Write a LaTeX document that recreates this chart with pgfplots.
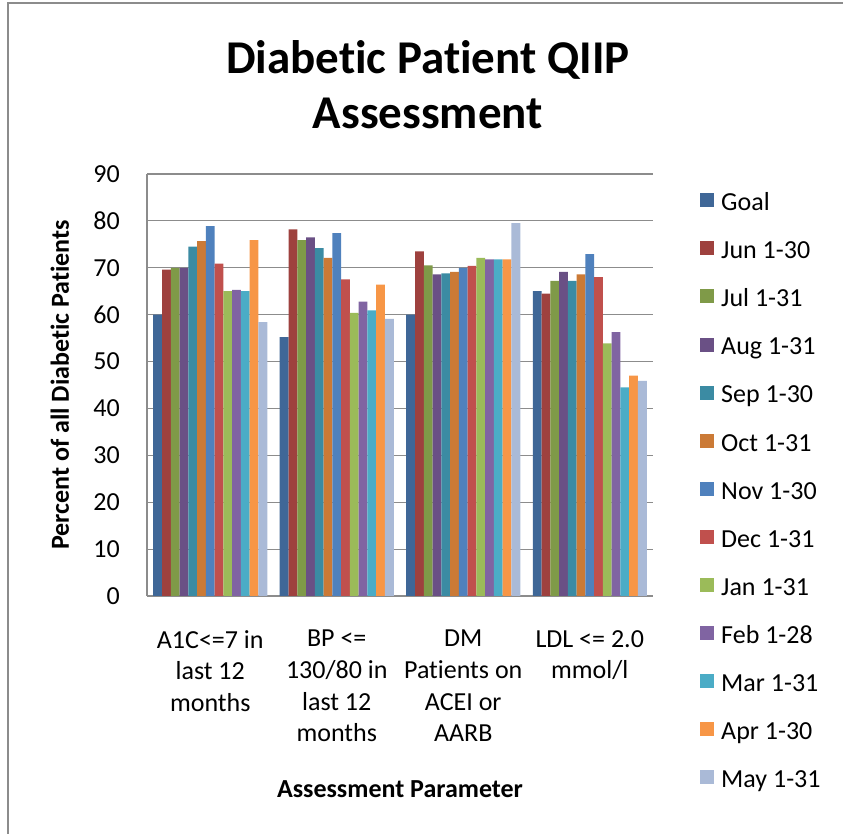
\documentclass[border=0pt]{standalone}
\usepackage{pgfplots}
\usepackage{pgfplotstable}
\pgfplotsset{compat=1.18}
\usepackage{fontspec}
\setmainfont{Carlito}[Ligatures=NoCommon]
\definecolor{cGoal}{HTML}{3F6797}
\definecolor{cJun}{HTML}{9E413E}
\definecolor{cJul}{HTML}{7F9A48}
\definecolor{cAug}{HTML}{6A5085}
\definecolor{cSep}{HTML}{3B8BA3}
\definecolor{cOct}{HTML}{CB7A36}
\definecolor{cNov}{HTML}{4F81BD}
\definecolor{cDec}{HTML}{C0504D}
\definecolor{cJan}{HTML}{9BBB59}
\definecolor{cFeb}{HTML}{8064A2}
\definecolor{cMar}{HTML}{4BACC6}
\definecolor{cApr}{HTML}{F79646}
\definecolor{cMay}{HTML}{AABAD7}
\definecolor{gridc}{HTML}{8C8C8C}
\definecolor{borderc}{HTML}{8C8C8C}
\pgfplotstableread{
x goal jun jul aug sep oct nov dec jan feb mar apr may
0 60.0 69.6 70.0 70.0 74.5 75.7 78.9 70.9 65.0 65.3 65.0 75.9 58.4
1 55.2 78.2 75.9 76.5 74.2 72.1 77.4 67.5 60.4 62.8 60.9 66.4 59.1
2 60.0 73.5 70.5 68.6 68.8 69.1 70.0 70.4 72.1 71.8 71.8 71.8 79.5
3 65.0 64.5 67.2 69.1 67.2 68.6 72.9 68.0 53.9 56.3 44.5 47.0 45.9
}\datatable
\begin{document}
\begin{tikzpicture}[x=1pt,y=1pt]
\useasboundingbox (0,0) rectangle (843,834);
\draw[color=borderc, line width=1.5pt] (8,-10) -- (8,831) -- (853,831);
\begin{axis}[
  at={(147pt,238pt)}, anchor=south west,
  scale only axis, width=506pt, height=422pt,
  ymin=0, ymax=90, ytick={0,10,...,90},
  xmin=-0.5, xmax=3.5, xtick={0,1,2,3},
  xticklabels={{A1C<=7 in\\last 12\\months},{BP <=\\130/80 in\\last 12\\months},{DM\\Patients on\\ACEI or\\AARB},{LDL <= 2.0\\mmol/l}},
  ybar=0pt, bar width=8.77pt,
  axis x line*=bottom, axis y line*=left,
  axis line style={gridc, line width=1.5pt, -},
  major tick length=0pt,
  ymajorgrids, grid style={gridc, line width=1.2pt},
  /pgf/number format/assume math mode=true,
  ticklabel style={font=\fontsize{26}{31.7}\selectfont},
  yticklabel style={inner sep=0pt, xshift=-27pt},
  xticklabel style={align=center, inner sep=0pt, anchor=north, yshift=-34pt},
  title={Diabetic Patient QIIP\\Assessment},
  title style={font=\bfseries\fontsize{47}{55}\selectfont, align=center, at={(axis description cs:0.555,1.0924)}, anchor=south, inner sep=0pt},
  xlabel={Assessment Parameter},
  xlabel style={font=\bfseries\fontsize{26}{31.7}\selectfont, at={(axis description cs:0.5,-0.457)}, anchor=center},
  ylabel={Percent of all Diabetic Patients},
  ylabel style={font=\bfseries\fontsize{26}{31.7}\selectfont, at={(axis description cs:-0.172,0.5)}, anchor=center},
  legend image code/.code={\fill[#1] (0pt,-7pt) rectangle (14pt,7pt);},
  legend cell align=left,
  legend style={at={(axis description cs:1.087,0.971)}, anchor=north west, draw=none, fill=none,
    font=\fontsize{26}{31.7}\selectfont, column sep=7pt, row sep=24.4pt, nodes={inner sep=0pt}},
]
\addplot[fill=cGoal, draw=none] table[x=x,y=goal]{\datatable};
\addplot[fill=cJun, draw=none] table[x=x,y=jun]{\datatable};
\addplot[fill=cJul, draw=none] table[x=x,y=jul]{\datatable};
\addplot[fill=cAug, draw=none] table[x=x,y=aug]{\datatable};
\addplot[fill=cSep, draw=none] table[x=x,y=sep]{\datatable};
\addplot[fill=cOct, draw=none] table[x=x,y=oct]{\datatable};
\addplot[fill=cNov, draw=none] table[x=x,y=nov]{\datatable};
\addplot[fill=cDec, draw=none] table[x=x,y=dec]{\datatable};
\addplot[fill=cJan, draw=none] table[x=x,y=jan]{\datatable};
\addplot[fill=cFeb, draw=none] table[x=x,y=feb]{\datatable};
\addplot[fill=cMar, draw=none] table[x=x,y=mar]{\datatable};
\addplot[fill=cApr, draw=none] table[x=x,y=apr]{\datatable};
\addplot[fill=cMay, draw=none] table[x=x,y=may]{\datatable};
\legend{\strut Goal,\strut Jun 1-30,\strut Jul 1-31,\strut Aug 1-31,\strut Sep 1-30,\strut Oct 1-31,\strut Nov 1-30,\strut Dec 1-31,\strut Jan 1-31,\strut Feb 1-28,\strut Mar 1-31,\strut Apr 1-30,\strut May 1-31}
\end{axis}
\end{tikzpicture}
\end{document}
